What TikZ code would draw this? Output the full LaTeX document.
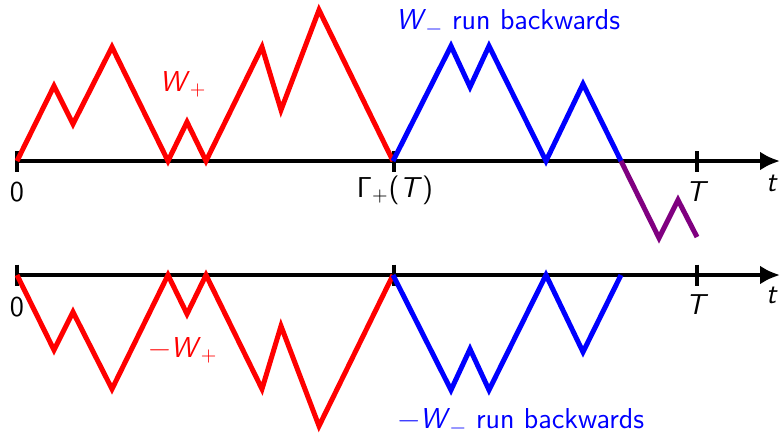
\documentclass[tikz,border=0pt]{standalone}
\usetikzlibrary{arrows.meta}
\definecolor{walkred}{RGB}{255,0,0}
\definecolor{walkblue}{RGB}{0,0,255}
\definecolor{walkpurple}{RGB}{128,0,128}
\newcommand{\sub}[1]{\textsubscript{#1}}

\begin{document}
\begin{tikzpicture}[x=0.5pt, y=0.5pt, font=\Large\sffamily,
    axis/.style={line width=2pt, -{Latex[length=10pt, width=9.5pt]}},
    tick/.style={line width=2pt},
    walk/.style={line width=2.5pt}]
  \useasboundingbox (0,0) rectangle (780,-436);

  % upper walk and its mirror image below
  \foreach \ax/\s in {-161/1, -275/-1} {
    \begin{scope}[shift={(0,\ax)}, yscale=\s]
      \coordinate (start) at (17,0);
      \coordinate (tip) at (780,0);
      \draw[axis] (start) -- (tip);
      \foreach \tx in {17, 394, 697}
        \draw[tick] (\tx,-10.5) -- (\tx,10.5);
      \draw[walk, walkred] (start) -- (54,75) -- (73,37) -- (112,114)
        -- (168,0) -- (187,39) -- (206,0) -- (262,114) -- (281,51)
        -- (319,151) -- (393,0) coordinate (meet);
      \draw[walk, walkblue] (meet) -- (451,115) -- (470,74) -- (489,115)
        -- (546,0) -- (583,77) -- (621,0) coordinate (cross\s);
    \end{scope}
  }
  \draw[walk, walkpurple] (cross1) -- (659,-238) -- (678,-200) -- (697,-237);

  % labels
  \node (zeroA) at (17,-192) {0};
  \node (gamma) at (395,-190) {Γ\sub{+}(\textit{T})};
  \node (endA) at (697,-192) {\textit{T}};
  \node (timeA) at (772,-183) {\textit{t}};
  \node (zeroB) at (17,-307) {0};
  \node (endB) at (697,-305) {\textit{T}};
  \node (timeB) at (772,-295) {\textit{t}};
  \node[walkred] (plus) at (183,-84) {\textit{W}\sub{+}};
  \node[walkblue] (minus) at (508,-22) {\textit{W}\sub{−} run backwards};
  \node[walkred] (negplus) at (183,-350) {−\textit{W}\sub{+}};
  \node[walkblue] (negminus) at (521,-421) {−\textit{W}\sub{−} run backwards};
\end{tikzpicture}
\end{document}
